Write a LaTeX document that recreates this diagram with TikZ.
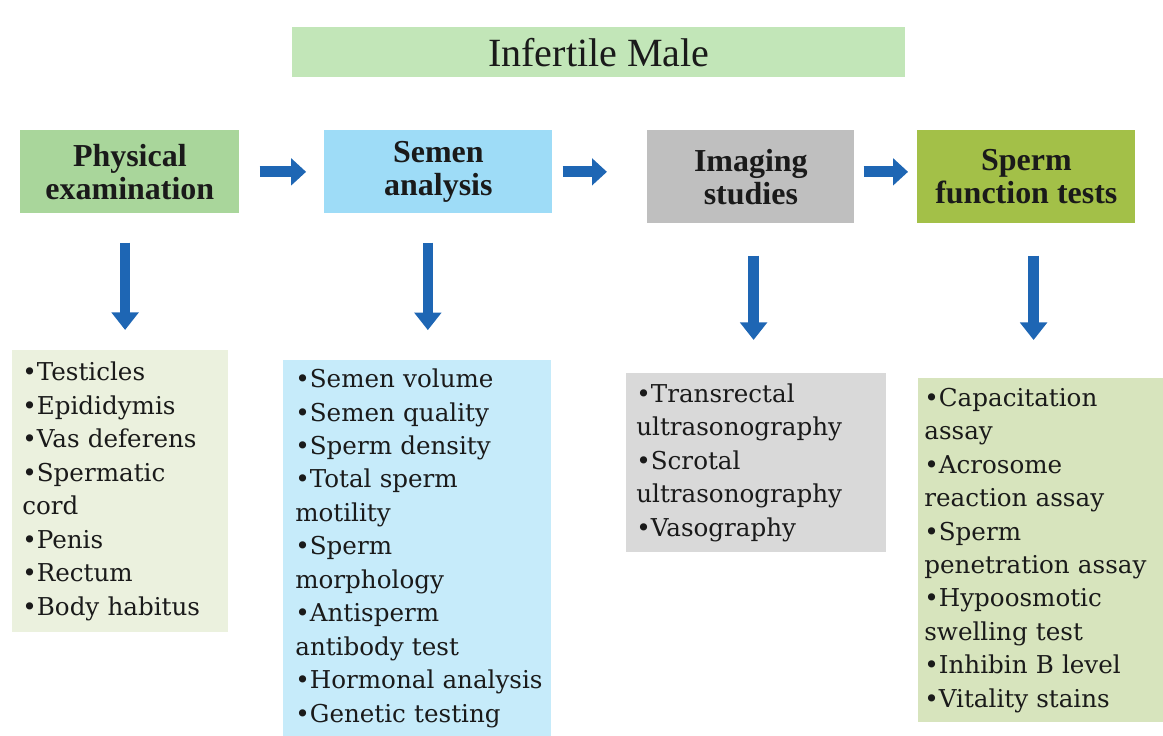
\documentclass[tikz,border=0pt]{standalone}
\usepackage{fontspec}
\setmainfont{Liberation Serif}
\newfontfamily\listserif{DejaVu Serif}
\usetikzlibrary{arrows.meta,calc}

\newcommand\pxu{0.02cm}
\definecolor{inkc}{HTML}{1A1A1A}
\definecolor{titlefill}{HTML}{C2E6B8}
\definecolor{physfill}{HTML}{A9D69B}
\definecolor{physlist}{HTML}{EBF1DE}
\definecolor{semfill}{HTML}{9EDCF7}
\definecolor{semlist}{HTML}{C6EBFA}
\definecolor{imgfill}{HTML}{BFBFBF}
\definecolor{imglist}{HTML}{D9D9D9}
\definecolor{spfill}{HTML}{A3C048}
\definecolor{splist}{HTML}{D7E4BD}
\definecolor{arrblue}{HTML}{1E66B4}

\begin{document}
\begin{tikzpicture}[
    x=\pxu, y=-\pxu,
    head/.style={anchor=north west,inner sep=0pt,align=center,text=inkc,
        font=\fontsize{18.2pt}{18.8pt}\selectfont\bfseries},
    list/.style={anchor=north west,inner ysep=0pt,align=left,text=inkc,
        font=\listserif\fontsize{14pt}{19.06pt}\selectfont},
    rarr/.style={-{Triangle[length=8.5pt,width=15pt]},line width=6.2pt,arrblue},
    darr/.style={-{Triangle[length=10pt,width=15pt]},line width=6pt,arrblue}
]
\useasboundingbox (0,0) rectangle (1163,736);

% top box
\node[head,fill=titlefill,minimum width=613*\pxu,minimum height=50*\pxu,
      font=\fontsize{22.8pt}{24pt}\selectfont] (male) at (292,27) {Infertile Male};

% header row
\node[head,fill=physfill,minimum width=219*\pxu,minimum height=83*\pxu] (pe) at (20,130) {Physical\\examination};
\node[head,fill=semfill,minimum width=228*\pxu,minimum height=83*\pxu] (sa) at (324,130) {Semen\\analysis};
\node[head,fill=imgfill,minimum width=207*\pxu,minimum height=93*\pxu] (im) at (647,130) {Imaging\\studies};
\node[head,fill=spfill,minimum width=218*\pxu,minimum height=93*\pxu] (sf) at (917,130) {Sperm\\function tests};

\draw[rarr,shorten <=11.4pt,shorten >=10.2pt] (pe.east) -- (sa.west);
\draw[rarr,shorten <=5.7pt,shorten >=22.8pt] (sa.east |- pe.east) -- (im.west |- pe.east);
\draw[rarr,shorten <=5.1pt,shorten >=5.1pt] (im.east |- pe.east) -- (sf.west |- pe.east);

% lists
\node[list,fill=physlist,inner xsep=10*\pxu,text width=3.92cm,minimum height=282*\pxu] (pel) at (12,350)
  {•Testicles\\•Epididymis\\•Vas deferens\\•Spermatic\\cord\\•Penis\\•Rectum\\•Body habitus};
\node[list,fill=semlist,inner xsep=12*\pxu,text width=4.88cm,minimum height=376*\pxu] (sal) at (283,360)
  {•Semen volume\\•Semen quality\\•Sperm density\\•Total sperm\\motility\\•Sperm\\morphology\\•Antisperm\\antibody test\\\mbox{•Hormonal analysis}\\•Genetic testing};
\node[list,fill=imglist,inner xsep=10*\pxu,text width=4.8cm,minimum height=179*\pxu] (iml) at (626,373)
  {•Transrectal\\ultrasonography\\•Scrotal\\ultrasonography\\•Vasography};
\node[list,fill=splist,inner xsep=6*\pxu,text width=4.66cm,minimum height=344*\pxu] (sfl) at (918,378)
  {•Capacitation\\assay\\•Acrosome\\reaction assay\\•Sperm\\penetration assay\\•Hypoosmotic\\swelling test\\•Inhibin B level\\•Vitality stains};

\coordinate (d1) at ($(pe.south)!.5!(pel.north)$);
\coordinate (d2) at ($(sa.south)!.5!(sal.north)$);
\coordinate (d3) at ($(im.south)!.5!(iml.north)$);
\coordinate (d4) at ($(sf.south)!.5!(sfl.north)$);
\draw[darr,shorten <=16.5pt,shorten >=11.4pt] (d1 |- pe.south) -- (d1 |- pel.north);
\draw[darr,shorten <=16.5pt,shorten >=17pt] (d2 |- sa.south) -- (d2 |- sal.north);
\draw[darr,shorten <=18.2pt,shorten >=18.8pt] (d3 |- im.south) -- (d3 |- iml.north);
\draw[darr,shorten <=18.2pt,shorten >=21.6pt] (d4 |- sf.south) -- (d4 |- sfl.north);
\end{tikzpicture}
\end{document}
